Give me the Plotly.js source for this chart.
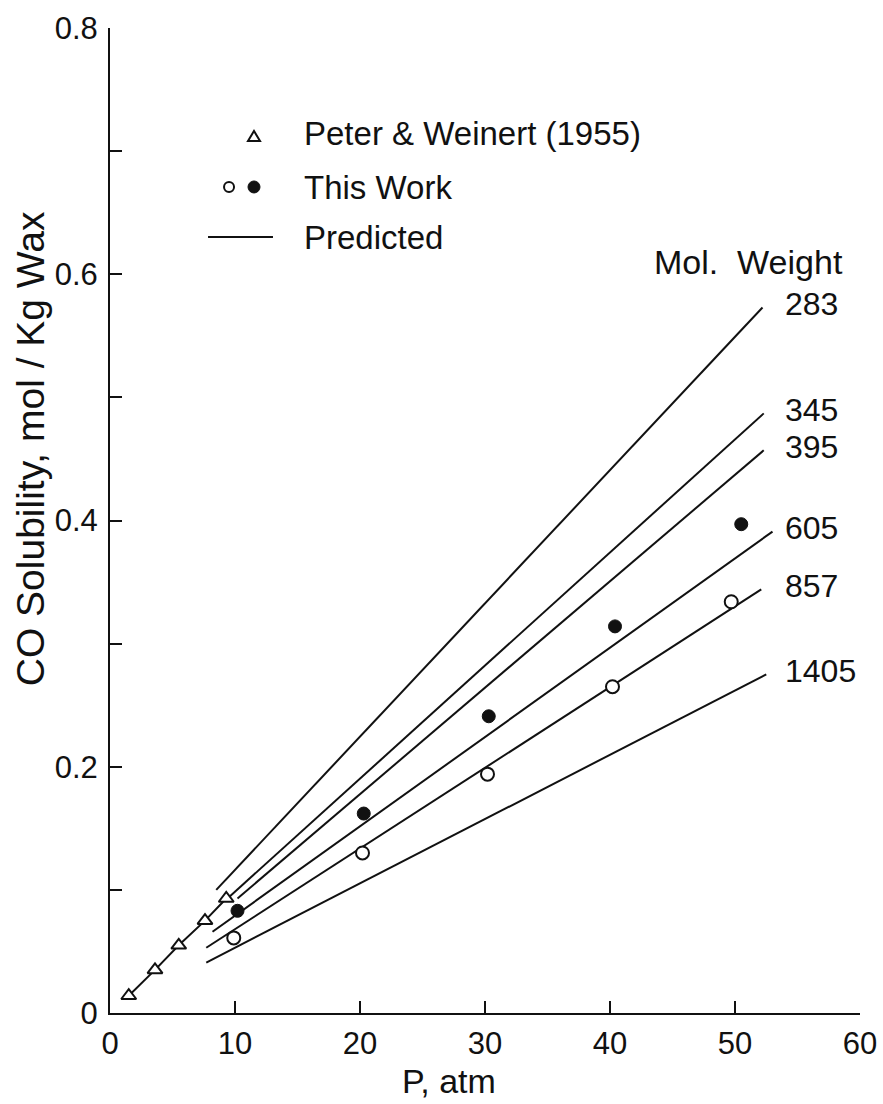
<!DOCTYPE html>
<html>
<head>
<meta charset="utf-8">
<script src="https://cdn.plot.ly/plotly-3.0.1.min.js"></script>
<style>html,body{margin:0;padding:0;background:#fff;}</style>
</head>
<body>
<div id="chart" style="width:883px;height:1104px;"></div>
<script>
// ---- Data ----
// Peter & Weinert (1955)
const pwP = [1.5, 3.6, 5.5, 7.6, 9.3];
const pwS = [0.014, 0.035, 0.055, 0.075, 0.093];
// This Work (filled circles)
const twFilledP = [10.2, 20.3, 30.3, 40.4, 50.5];
const twFilledS = [0.083, 0.162, 0.241, 0.314, 0.397];
// This Work (open circles)
const twOpenP = [9.9, 20.2, 30.2, 40.2, 49.7];
const twOpenS = [0.061, 0.130, 0.194, 0.265, 0.334];
// Predicted lines, one per molecular weight
const molWeights = ['283', '345', '395', '605', '857', '1405'];
const predStartP = [8.5, 9.4, 10.2, 8.2, 7.7, 7.7];
const predStartS = [0.100, 0.093, 0.093, 0.066, 0.053, 0.041];
const predEndP = [52.2, 52.3, 52.3, 53.0, 52.1, 52.5];
const predEndS = [0.573, 0.487, 0.457, 0.391, 0.344, 0.275];
// Axis ticks
const xTickVals = [0, 10, 20, 30, 40, 50, 60];
const xTickText = ['0', '10', '20', '30', '40', '50', '60'];
const yTickVals = [0, 0.1, 0.2, 0.3, 0.4, 0.5, 0.6, 0.7, 0.8];
const yTickText = ['0', '', '0.2', '', '0.4', '', '0.6', '', '0.8'];
// Texts
const legendTexts = ['Peter & Weinert (1955)', 'This Work', 'Predicted'];
const mwHeader = 'Mol.  Weight';
const xTitle = 'P, atm';
const yTitle = 'CO Solubility, mol / Kg Wax';

// ---- Styling ----
const INK = '#111111';
const FONT = 'Liberation Sans, Arial, sans-serif';

const traces = [];
molWeights.forEach((mw, i) => {
  traces.push({
    type: 'scatter', mode: 'lines', name: 'Predicted ' + mw,
    x: [predStartP[i], predEndP[i]], y: [predStartS[i], predEndS[i]],
    line: {color: INK, width: 2}, showlegend: false, hoverinfo: 'skip'
  });
});
traces.push({
  type: 'scatter', mode: 'lines+markers', name: legendTexts[0],
  x: pwP, y: pwS,
  line: {color: INK, width: 2},
  marker: {symbol: 'triangle-up', size: 13, color: '#ffffff', line: {color: INK, width: 2}},
  showlegend: false
});
traces.push({
  type: 'scatter', mode: 'markers', name: 'This Work (open)',
  x: twOpenP, y: twOpenS,
  marker: {symbol: 'circle', size: 13, color: '#ffffff', line: {color: INK, width: 2}},
  showlegend: false
});
traces.push({
  type: 'scatter', mode: 'markers', name: 'This Work (filled)',
  x: twFilledP, y: twFilledS,
  marker: {symbol: 'circle', size: 13, color: INK, line: {color: INK, width: 1}},
  showlegend: false
});

const labelX = 53.84;
const annotations = molWeights.map((mw, i) => ({
  x: labelX, y: predEndS[i] + 0.003, xref: 'x', yref: 'y',
  text: mw, showarrow: false, xanchor: 'left', yanchor: 'middle',
  font: {family: FONT, size: 32, color: INK}
}));
annotations.push({
  x: 51.1, y: 0.610, xref: 'x', yref: 'y', text: mwHeader, showarrow: false,
  xanchor: 'center', yanchor: 'middle', font: {family: FONT, size: 34, color: INK}
});
// legend texts
const legY = [0.8934, 0.8376, 0.7878];
legendTexts.forEach((t, i) => annotations.push({
  x: 0.256, y: legY[i], xref: 'paper', yref: 'paper', text: t, showarrow: false,
  xanchor: 'left', yanchor: 'middle', font: {family: FONT, size: 33, color: INK}
}));
// axis titles
annotations.push({
  x: 0.452, y: -0.069, xref: 'paper', yref: 'paper', text: xTitle, showarrow: false,
  xanchor: 'center', yanchor: 'middle', font: {family: FONT, size: 34, color: INK}
});
annotations.push({
  x: -0.105, y: 0.5726, xref: 'paper', yref: 'paper', text: yTitle, showarrow: false,
  textangle: -90, xanchor: 'center', yanchor: 'middle', font: {family: FONT, size: 39, color: INK}
});

const shapes = [
  // legend triangle
  {type: 'path', xref: 'paper', yref: 'paper', xsizemode: 'pixel', ysizemode: 'pixel',
   xanchor: 0.192, yanchor: 0.8893, path: 'M-6,-4 L6,-4 L0,6 Z',
   line: {color: INK, width: 2}, fillcolor: '#ffffff'},
  // legend open circle
  {type: 'circle', xref: 'paper', yref: 'paper', xsizemode: 'pixel', ysizemode: 'pixel',
   xanchor: 0.1587, yanchor: 0.8386, x0: -5, x1: 5, y0: -5, y1: 5,
   line: {color: INK, width: 2}, fillcolor: '#ffffff'},
  // legend filled circle
  {type: 'circle', xref: 'paper', yref: 'paper', xsizemode: 'pixel', ysizemode: 'pixel',
   xanchor: 0.192, yanchor: 0.8386, x0: -6, x1: 6, y0: -6, y1: 6,
   line: {color: INK, width: 1}, fillcolor: INK},
  // legend line
  {type: 'line', xref: 'paper', yref: 'paper', x0: 0.1307, x1: 0.2173, y0: 0.7878, y1: 0.7878,
   line: {color: INK, width: 2}}
];

const layout = {
  width: 883, height: 1104,
  margin: {l: 110, r: 23, t: 28, b: 91},
  paper_bgcolor: '#ffffff', plot_bgcolor: '#ffffff',
  showlegend: false,
  font: {family: FONT, color: INK},
  xaxis: {
    range: [0, 60], tickmode: 'array', tickvals: xTickVals, ticktext: xTickText,
    ticks: 'inside', ticklen: 12, tickwidth: 2, tickcolor: INK,
    showline: true, linecolor: INK, linewidth: 2, mirror: false,
    showgrid: false, zeroline: false, ticklabelstandoff: 2,
    tickfont: {family: FONT, size: 31, color: INK}, title: {text: ''}
  },
  yaxis: {
    range: [0, 0.8], tickmode: 'array', tickvals: yTickVals, ticktext: yTickText,
    ticks: 'inside', ticklen: 12, tickwidth: 2, tickcolor: INK,
    showline: true, linecolor: INK, linewidth: 2, mirror: false,
    showgrid: false, zeroline: false, ticklabelstandoff: 4,
    tickfont: {family: FONT, size: 31, color: INK}, title: {text: ''}
  },
  annotations: annotations,
  shapes: shapes
};

Plotly.newPlot('chart', traces, layout, {displayModeBar: false, staticPlot: true});
</script>
</body>
</html>
